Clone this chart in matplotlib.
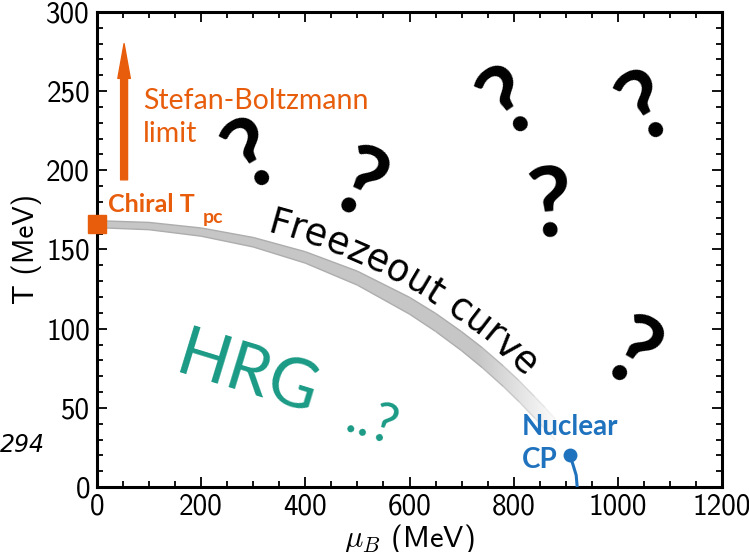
import numpy as np
import matplotlib
matplotlib.use('Agg')
import matplotlib.pyplot as plt
from matplotlib.ticker import MultipleLocator
from matplotlib.font_manager import FontProperties, get_font, findfont
from matplotlib.transforms import IdentityTransform
from matplotlib.patches import Polygon
from matplotlib.collections import LineCollection

plt.rcParams['font.family'] = 'cmss10'
plt.rcParams['mathtext.fontset'] = 'cm'
plt.rcParams['axes.unicode_minus'] = False

# freeze-out band
fo_mu = [0, 100, 200, 300, 400, 500, 600, 650, 700, 740, 780, 810, 840, 860, 880]
fo_T = [166, 164.8, 161, 154.6, 145, 131.9, 114.5, 104, 92.1, 81.6, 70, 60.6, 50.4, 43.5, 36.1]
fo_halfw = [2.2, 2.3, 2.6, 3.0, 3.6, 4.4, 5.3, 5.7, 6.0, 6.3, 6.5, 6.7, 6.8, 6.8, 6.8]

chiral_mu, chiral_T = 0, 166
sb_mu = 52
sb_T = [194, 280]
cp_mu = [908, 914, 920, 922]
cp_T = [20, 14, 7.5, 0]

qm_mu = [292, 509, 785, 870, 1048, 1033]
qm_T = [213, 193, 246, 181, 243, 86]
qm_rot = [30, -25, 35, 5, 30, -30]

orange = '#e85d0c'
teal = '#1a9a85'
blue = '#1f72bd'

fig = plt.figure(figsize=(7.49, 5.52), dpi=100)
ax = fig.add_axes([97/749, 65/552, 625/749, 475/552])

# band with fading end
up = np.array(fo_T) + np.array(fo_halfw)
lo = np.array(fo_T) - np.array(fo_halfw)
verts = list(zip(fo_mu, up)) + list(zip(fo_mu[::-1], lo[::-1]))
poly = Polygon(verts, closed=True, facecolor='none', edgecolor='none')
ax.add_patch(poly)
gx = np.linspace(0, 900, 300)
fade = np.clip((890 - gx) / (890 - 730), 0, 1)
grad = np.ones((2, len(gx), 4))
grad[..., :3] = 0.78
grad[..., 3] = fade
im = ax.imshow(grad, extent=[0, 900, 0, 200], aspect='auto', origin='lower',
               zorder=2, interpolation='bilinear')
im.set_clip_path(poly)
for edge in (up, lo):
    segs = [[(fo_mu[i], edge[i]), (fo_mu[i+1], edge[i+1])] for i in range(len(fo_mu)-1)]
    mids = [(fo_mu[i] + fo_mu[i+1]) / 2 for i in range(len(fo_mu)-1)]
    a = np.clip((890 - np.array(mids)) / (890 - 730), 0, 1)
    cols = [(0.68, 0.68, 0.68, v) for v in a]
    ax.add_collection(LineCollection(segs, colors=cols, linewidths=1.0, zorder=3))

ax.set_xlim(0, 1200)
ax.set_ylim(0, 300)
ax.set_xticks(range(0, 1201, 200))
ax.set_yticks(range(0, 301, 50))
ax.xaxis.set_minor_locator(MultipleLocator(50))
ax.yaxis.set_minor_locator(MultipleLocator(10))
ax.tick_params(which='both', direction='in', top=True, right=True, width=1.3)
ax.tick_params(which='major', length=7, labelsize=21)
ax.tick_params(which='minor', length=4)
ax.tick_params(axis='y', pad=5)
ax.tick_params(axis='x', pad=5)
for sp in ax.spines.values():
    sp.set_linewidth(2.2)
ax.set_xlabel(r'$\mu_B$ (MeV)', fontsize=22, labelpad=1)
ax.set_ylabel('T (MeV)', fontsize=21, labelpad=3)

# chiral point and Stefan-Boltzmann arrow
ax.plot([chiral_mu], [chiral_T], 's', ms=13, color=orange, clip_on=False, zorder=6)
ax.annotate('', xy=(sb_mu, sb_T[1]), xytext=(sb_mu, sb_T[0]),
            arrowprops=dict(arrowstyle='simple,head_length=1.25,head_width=0.45,tail_width=0.25',
                            mutation_scale=20, color=orange, shrinkA=0, shrinkB=0))
ax.text(88, 239, 'Stefan-Boltzmann', family='Lato', fontsize=20.5, color=orange, va='baseline')
ax.text(88, 218, 'limit', family='Lato', fontsize=20.5, color=orange, va='baseline')
ax.text(21, 174, 'Chiral T', family='Lato', weight='bold', fontsize=18, color=orange, va='baseline')
ax.text(203, 167, 'pc', family='Lato', weight='bold', fontsize=14, color=orange, va='baseline')

# nuclear critical point
ax.plot(cp_mu, cp_T, color=blue, lw=2.2, solid_capstyle='butt', zorder=5, clip_on=False)
ax.plot([cp_mu[0]], [cp_T[0]], 'o', ms=9, color=blue, zorder=6)
ax.text(816, 32.8, 'Nuclear', family='Lato', weight='bold', fontsize=20, color=blue, va='baseline')
ax.text(816, 12, 'CP', family='Lato', weight='bold', fontsize=20, color=blue, va='baseline')

# HRG
ax.text(146, 72.6, 'HRG', family='Lato', fontsize=49, color=teal, rotation=-17,
        rotation_mode='anchor', ha='left', va='baseline')
ax.text(472, 35.4, '..?', family='Lato', fontsize=40, color=teal, rotation=-17,
        rotation_mode='anchor', ha='left', va='baseline')

# question marks
qsize = 70
qfp = FontProperties(family='Lato', weight='bold', size=qsize)
qh = 0.72 * qsize * fig.dpi / 72
for m, t, r in zip(qm_mu, qm_T, qm_rot):
    c = ax.transData.transform((m, t))
    th = np.radians(r)
    b = c - 0.5 * qh * np.array([-np.sin(th), np.cos(th)])
    fig.text(b[0], b[1], '?', transform=IdentityTransform(), fontproperties=qfp,
             rotation=r, rotation_mode='anchor', ha='center', va='baseline', color='black')


def curved_text(text, xs, ys, start_mu, offset, size, spacing):
    pts = ax.transData.transform(np.column_stack([xs, ys]))
    seg = np.diff(pts, axis=0)
    sl = np.hypot(seg[:, 0], seg[:, 1])
    cum = np.concatenate([[0], np.cumsum(sl)])
    ang = np.arctan2(seg[:, 1], seg[:, 0])
    mid_s = (cum[:-1] + cum[1:]) / 2
    sx = ax.transData.transform((start_mu, 0))[0]
    s = np.interp(sx, pts[:, 0], cum)
    fp = FontProperties(family='DejaVu Sans', size=size)
    font = get_font(findfont(fp))
    font.set_size(size, fig.dpi)
    for ch in text:
        adv = font.load_char(ord(ch)).linearHoriAdvance / 65536
        m = s + adv / 2
        i = int(np.clip(np.searchsorted(cum, m) - 1, 0, len(sl) - 1))
        p = pts[i] + (m - cum[i]) / sl[i] * seg[i]
        a = np.interp(m, mid_s, ang)
        n = np.array([-np.sin(a), np.cos(a)])
        q = p + n * offset
        if ch != ' ':
            fig.text(q[0], q[1], ch, transform=IdentityTransform(), fontproperties=fp,
                     rotation=np.degrees(a), rotation_mode='anchor', ha='center',
                     va='baseline', color='black')
        s += adv + spacing


curved_text('Freezeout curve', fo_mu, fo_T, 318, 14, 26.5, -0.3)

fig.text(0, 1 - 445/552, '294', family='DejaVu Sans', style='italic', fontsize=17,
         ha='left', va='center')

fig.savefig('out.png', dpi=100)
